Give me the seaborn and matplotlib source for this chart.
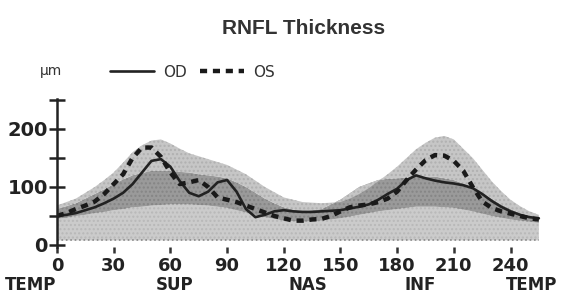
import matplotlib.pyplot as plt
import pandas as pd
import seaborn as sns

# position along the scan circle (degrees-ish units shown on the axis)
POS = list(range(0, 256, 5))

OD = [50, 52, 55, 60, 65, 72, 80, 90, 105, 125, 145, 148, 135, 110, 90, 84,
      92, 108, 112, 92, 62, 48, 52, 58, 60, 58, 57, 57, 58, 59, 60, 63,
      66, 70, 78, 88, 97, 112, 120, 115, 111, 108, 106, 103, 98, 88, 76, 66,
      58, 52, 48, 46]
OS = [50, 55, 62, 68, 75, 88, 105, 122, 150, 168, 168, 152, 125, 105, 108, 112,
      100, 82, 78, 74, 68, 62, 56, 50, 46, 42, 42, 44, 45, 50, 58, 65,
      68, 70, 74, 80, 92, 112, 130, 146, 155, 154, 145, 128, 100, 75, 64, 58,
      54, 50, 46, 44]

# normal-range bands
BAND_TOP = [68, 74, 80, 90, 100, 112, 125, 142, 160, 172, 180, 182, 175, 166, 158, 153,
            148, 143, 138, 130, 122, 111, 100, 91, 82, 78, 74, 73, 72, 73, 74, 80,
            88, 98, 110, 122, 135, 150, 165, 176, 185, 188, 182, 166, 150, 130, 110, 93,
            78, 67, 58, 52]
DARK_TOP = [62, 67, 72, 80, 88, 96, 105, 113, 120, 124, 128, 128, 128, 126, 125, 122,
            120, 118, 115, 108, 100, 90, 80, 72, 65, 61, 58, 60, 62, 70, 78, 89,
            100, 106, 112, 114, 115, 116, 118, 118, 118, 115, 112, 106, 100, 90, 80, 70,
            62, 55, 50, 46]
DARK_BOT = [45, 47, 50, 52, 55, 57, 60, 62, 65, 66, 68, 69, 70, 70, 70, 69,
            68, 66, 64, 60, 56, 52, 48, 45, 42, 41, 40, 41, 42, 44, 46, 49,
            52, 55, 58, 60, 62, 64, 66, 66, 66, 65, 64, 61, 58, 54, 50, 47,
            44, 42, 40, 38]
FLOOR = [8] * len(POS)

X_TICKS = [0, 30, 60, 90, 120, 150, 180, 210, 240]
Y_TICKS = [0, 100, 200]
Y_MINOR = [50, 150, 250]
SECTORS = ["TEMP", "SUP", "NAS", "INF", "TEMP"]
SECTOR_POS = [-14, 62, 133, 192, 251]


def main() -> None:
    sns.set_style("white")
    plt.rcParams["font.family"] = ["DejaVu Sans"]

    df = pd.DataFrame({"pos": POS, "OD": OD, "OS": OS})

    fig = plt.figure(figsize=(5.63, 2.97), dpi=100)
    ax = fig.add_axes([0.1012, 0.1673, 0.866, 0.5])

    ax.fill_between(POS, FLOOR, DARK_BOT, color="#cbcbcb", linewidth=0, hatch="....",
                    edgecolor="#b8b8b8")
    ax.fill_between(POS, DARK_BOT, DARK_TOP, color="#9a9a9a", linewidth=0, hatch="....",
                    edgecolor="#858585")
    ax.fill_between(POS, DARK_TOP, BAND_TOP, color="#c6c6c6", linewidth=0, hatch="....",
                    edgecolor="#b0b0b0")
    ax.plot(POS, FLOOR, color="#8a8a8a", linestyle=":", linewidth=1.2)

    sns.lineplot(data=df, x="pos", y="OD", color="#222222", linewidth=1.9, ax=ax,
                 label="OD")
    sns.lineplot(data=df, x="pos", y="OS", color="#1a1a1a", linewidth=3.2, ax=ax,
                 label="OS", linestyle=(0, (1.6, 1.3)))

    ax.set_xlim(0, 258)
    ax.set_ylim(-4, 252)
    ax.set_xlabel("")
    ax.set_ylabel("")

    for side in ["top", "right", "bottom"]:
        ax.spines[side].set_visible(False)
    ax.spines["left"].set_linewidth(1.8)
    ax.spines["left"].set_color("#222222")

    ax.set_yticks(Y_TICKS)
    ax.set_yticks(Y_MINOR, minor=True)
    ax.tick_params(axis="y", which="both", direction="inout", length=11, width=1.8,
                   color="#222222", left=True, pad=1, labelsize=14, labelcolor="#222222")
    ax.set_xticks(X_TICKS)
    ax.tick_params(axis="x", direction="out", length=4, width=1.8, color="#333333",
                   bottom=True, pad=3, labelsize=13, labelcolor="#222222")
    for lab in ax.get_yticklabels() + ax.get_xticklabels():
        lab.set_fontweight("bold")

    for name, pos in zip(SECTORS, SECTOR_POS):
        ax.text(pos, -0.19, name, transform=ax.get_xaxis_transform(), ha="center",
                va="top", fontsize=12, fontweight="bold", color="#222222")

    fig.text(0.539, 0.905, "RNFL Thickness", ha="center", va="center", fontsize=15,
             fontweight="bold", color="#333333", family="Liberation Sans")
    fig.text(0.09, 0.76, "µm", ha="center", va="center", fontsize=10, color="#333333")

    leg = ax.legend(loc="center left", bbox_to_anchor=(0.109, 1.18), borderaxespad=0,
                    borderpad=0, ncol=2, frameon=False, handlelength=2.9,
                    columnspacing=0.8, handletextpad=0.6, fontsize=11)
    for t in leg.get_texts():
        t.set_color("#333333")

    fig.savefig("out.png", dpi=100)
    plt.close(fig)


if __name__ == "__main__":
    main()
